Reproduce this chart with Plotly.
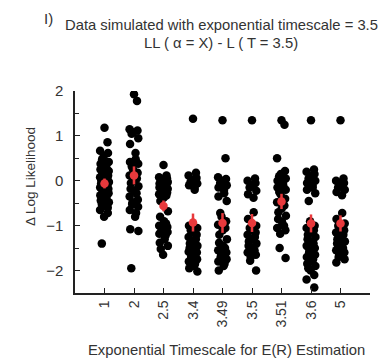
import math
import plotly.graph_objects as go

categories = ["1", "2", "2.5", "3.4", "3.49", "3.5", "3.51", "3.6", "5"]

g1 = [1.18, 0.86, 0.67, 0.62, 0.55, 0.48, 0.42, 0.38, 0.33, 0.30, 0.25, 0.22, 0.18, 0.15,
      0.12, 0.08, 0.05, 0.02, 0.0, -0.03, -0.06, -0.09, -0.12, -0.15, -0.18, -0.21, -0.25,
      -0.28, -0.32, -0.36, -0.40, -0.44, -0.48, -0.52, -0.56, -0.60, -0.65, -0.72, -0.80, -1.40]
g2 = [1.93, 1.78, 1.15, 1.12, 1.08, 1.05, 0.95, 0.82, 0.62, 0.48, 0.42, 0.38, 0.32, 0.25,
      0.18, 0.12, 0.05, 0.0, -0.05, -0.12, -0.18, -0.22, -0.28, -0.35, -0.42, -0.48, -0.52,
      -0.58, -0.65, -0.72, -0.80, -1.08, -1.12, -1.95]
g3 = [0.35, 0.12, 0.08, 0.05, 0.02, 0.0, -0.03, -0.06, -0.09, -0.12, -0.15, -0.18, -0.2,
      -0.23, -0.26, -0.3, -0.33, -0.38, -0.45, -0.68, -0.8, -0.9, -0.95, -1.0, -1.03, -1.06,
      -1.1, -1.14, -1.18, -1.22, -1.3, -1.38, -1.45, -1.52, -1.65]
g4 = [1.38, 0.18, 0.12, 0.06, 0.02, -0.02, -0.06, -0.1, -0.15, -0.2, -1.0, -1.05, -1.1,
      -1.15, -1.2, -1.25, -1.3, -1.35, -1.4, -1.45, -1.5, -1.52, -1.55, -1.58, -1.6, -1.65,
      -1.7, -1.75, -1.8, -1.85, -1.9, -1.95, -2.02]
g5 = [1.35, 0.5, 0.08, 0.04, 0.0, -0.05, -0.1, -0.15, -0.2, -0.28, -0.35, -0.45, -0.72,
      -0.8, -0.9, -0.98, -1.05, -1.1, -1.2, -1.3, -1.38, -1.45, -1.5, -1.55, -1.6, -1.65,
      -1.7, -1.75, -1.8, -1.85, -1.9, -2.0]
g6 = [1.35, 0.05, 0.0, -0.05, -0.1, -0.15, -0.22, -0.3, -0.38, -0.7, -0.85, -1.0, -1.05,
      -1.1, -1.15, -1.2, -1.25, -1.3, -1.35, -1.4, -1.45, -1.5, -1.55, -1.6, -1.65, -1.7,
      -1.78, -2.0]
g7 = [1.35, 1.25, 0.5, 0.22, 0.15, 0.1, 0.05, 0.0, -0.05, -0.1, -0.15, -0.2, -0.25, -0.3,
      -0.4, -0.48, -0.55, -0.62, -0.7, -0.78, -0.85, -0.92, -1.0, -1.05, -1.1, -1.18, -1.5,
      -1.72]
g8 = [1.35, 0.25, 0.2, 0.15, 0.1, 0.05, 0.0, -0.05, -0.1, -0.15, -0.2, -0.28, -0.45, -0.9,
      -1.0, -1.05, -1.1, -1.15, -1.2, -1.25, -1.3, -1.35, -1.4, -1.45, -1.5, -1.55, -1.6,
      -1.65, -1.7, -1.75, -1.8, -1.85, -1.9, -1.95, -2.0, -2.1, -2.2, -2.38]
g9 = [1.35, 0.05, 0.0, -0.05, -0.1, -0.15, -0.2, -0.25, -0.32, -0.72, -0.85, -0.95, -1.0,
      -1.05, -1.1, -1.15, -1.2, -1.25, -1.3, -1.35, -1.4, -1.45, -1.5, -1.55, -1.6, -1.65,
      -1.7, -1.75, -1.82]
groups = [g1, g2, g3, g4, g5, g6, g7, g8, g9]

means = [-0.06, 0.12, -0.56, -0.93, -0.94, -0.94, -0.46, -0.95, -0.95]
sems = [0.11, 0.20, 0.12, 0.20, 0.22, 0.20, 0.17, 0.20, 0.18]

title_line1 = "Data simulated with exponential timescale = 3.5"
title_line2 = "LL ( α = X) - L ( T = 3.5)"

fig = go.Figure()

xs, ys = [], []
for gi, vals in enumerate(groups):
    for i, v in enumerate(vals):
        xs.append(gi + 1 + 0.15 * math.sin(i * 2.39996))
        ys.append(v)

fig.add_trace(go.Scatter(x=xs, y=ys, mode="markers",
                         marker=dict(color="black", size=8.5, line=dict(width=0)),
                         showlegend=False, hoverinfo="y"))

fig.add_trace(go.Scatter(x=list(range(1, len(categories) + 1)), y=means, mode="markers",
                         marker=dict(color="#e8393c", size=8.5, line=dict(width=0)),
                         error_y=dict(type="data", array=sems, color="#e8393c",
                                      thickness=2.5, width=0),
                         showlegend=False))

font_color = "#333333"
fam = "Liberation Sans, Arial, sans-serif"

fig.update_layout(
    width=383, height=360,
    margin=dict(l=75, r=13, t=91, b=67),
    paper_bgcolor="white", plot_bgcolor="white",
    font=dict(family=fam, color=font_color, size=14),
    xaxis=dict(range=[0, 10], tickvals=list(range(1, len(categories) + 1)),
               ticktext=categories, tickangle=-90, ticks="inside", ticklen=5,
               tickcolor="#222", showline=True, linecolor="#222", linewidth=1.5,
               showgrid=False, zeroline=False, tickfont=dict(size=14)),
    yaxis=dict(range=[-2.5, 2.0], tickvals=[-2, -1, 0, 1, 2], ticks="inside",
               ticklen=5, tickcolor="#222", showline=True, linecolor="#222",
               linewidth=1.5, showgrid=False, zeroline=False, tickfont=dict(size=15),
               ticklabelstandoff=7,
               minor=dict(tickvals=[-2.5, -1.5, -0.5, 0.5, 1.5], ticks="inside",
                          ticklen=4, tickcolor="#222")),
    annotations=[
        dict(text="I)", xref="paper", yref="paper", x=0, xshift=-33, y=1, yshift=83,
             showarrow=False, font=dict(size=15, color=font_color),
             xanchor="left", yanchor="top"),
        dict(text=title_line1, xref="paper", yref="paper", x=0.5, xshift=-1.5, y=1.0,
             yshift=66, showarrow=False, font=dict(size=14.8, color=font_color),
             xanchor="center", yanchor="middle"),
        dict(text=title_line2, xref="paper", yref="paper", x=0.5, xshift=-1.5, y=1.0,
             yshift=48, showarrow=False, font=dict(size=14.8, color=font_color),
             xanchor="center", yanchor="middle"),
        dict(text="Δ Log Likelihood", xref="paper", yref="paper", x=0, xshift=-45,
             y=0.5, yshift=15, textangle=-90, showarrow=False,
             font=dict(size=13.5, color=font_color), xanchor="center", yanchor="middle"),
        dict(text="Exponential Timescale for E(R) Estimation", xref="paper", yref="paper",
             x=0.5, xshift=4, y=0, yshift=-57, showarrow=False,
             font=dict(size=14.8, color=font_color), xanchor="center", yanchor="middle"),
    ],
)

fig.write_html("out.html")
